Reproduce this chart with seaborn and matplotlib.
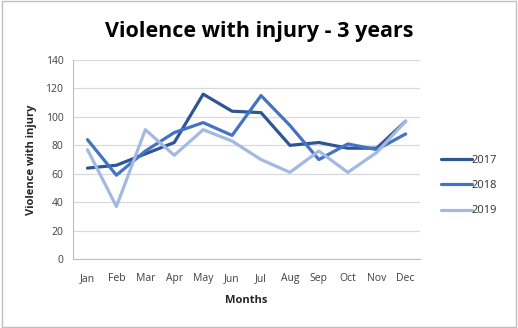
import matplotlib
matplotlib.use("Agg")
import matplotlib.pyplot as plt
import seaborn as sns
import pandas as pd
import numpy as np
from matplotlib.ticker import FixedLocator

months = ["Jan", "Feb", "Mar", "Apr", "May", "Jun", "Jul", "Aug", "Sep", "Oct", "Nov", "Dec"]
y2017 = [64, 66, 74, 82, 116, 104, 103, 80, 82, 78, 78, 97]
y2018 = [84, 59, 76, 89, 96, 87, 115, 94, 70, 81, 77, 88]
y2019 = [77, 37, 91, 73, 91, 83, 70, 61, 76, 61, 75, 97]
years = ["2017", "2018", "2019"]
colors = ["#2F5597", "#4472C4", "#A4B9E2"]

rows = []
for yr, vals in zip(years, [y2017, y2018, y2019]):
    for i, v in enumerate(vals):
        rows.append({"Month": i, "Year": yr, "Value": v})
df = pd.DataFrame(rows)

sns.set_theme(style="white")
plt.rcParams['font.family'] = ['Open Sans', 'DejaVu Sans']

fig = plt.figure(figsize=(5.18, 3.28), dpi=100)
ax = fig.add_axes([0.141, 0.21, 0.67, 0.607])

sns.lineplot(data=df, x="Month", y="Value", hue="Year", palette=colors,
             linewidth=2.3, ax=ax, legend=True)

ax.set_xlim(-0.5, 11.5)
ax.set_ylim(0, 140)
ax.set_yticks(np.arange(0, 141, 20))
ax.set_xticks(range(12))
ax.set_xticklabels(months)
ax.xaxis.set_minor_locator(FixedLocator(np.arange(-0.5, 12, 1)))
ax.tick_params(axis="x", which="major", length=0, labelsize=7.5, pad=10, colors="#404040")
ax.tick_params(axis="x", which="minor", length=4, width=0.8, color="#BFBFBF", direction="out")
ax.tick_params(axis="y", which="major", length=4, width=0.8, color="#BFBFBF", labelsize=7.5, pad=3)
ax.tick_params(axis="y", colors="#BFBFBF", labelcolor="#404040")
ax.grid(axis="y", color="#D9D9D9", linewidth=0.9)
for s in ["top", "right"]:
    ax.spines[s].set_visible(False)
for s in ["left", "bottom"]:
    ax.spines[s].set_color("#BFBFBF")
    ax.spines[s].set_linewidth(0.8)

ax.set_xlabel("Months", fontsize=8, fontweight="bold", labelpad=8)
ax.set_ylabel("Violence with injury", fontsize=8, fontweight="bold", labelpad=6)

leg = ax.legend(loc="center left", bbox_to_anchor=(1.03, 0.37), frameon=False,
                fontsize=8, handlelength=2.8, labelspacing=1.3, handletextpad=0.0)
for t in leg.get_texts():
    t.set_color("#303030")

fig.text(0.5, 0.905, "Violence with injury - 3 years", ha="center", va="center",
         fontsize=15.5, fontweight="bold", color="#000000")

border = plt.Rectangle((0.003, 0.003), 0.994, 0.994, transform=fig.transFigure,
                       fill=False, edgecolor="#BFBFBF", linewidth=1)
fig.patches.append(border)

fig.savefig("out.png", dpi=100)
